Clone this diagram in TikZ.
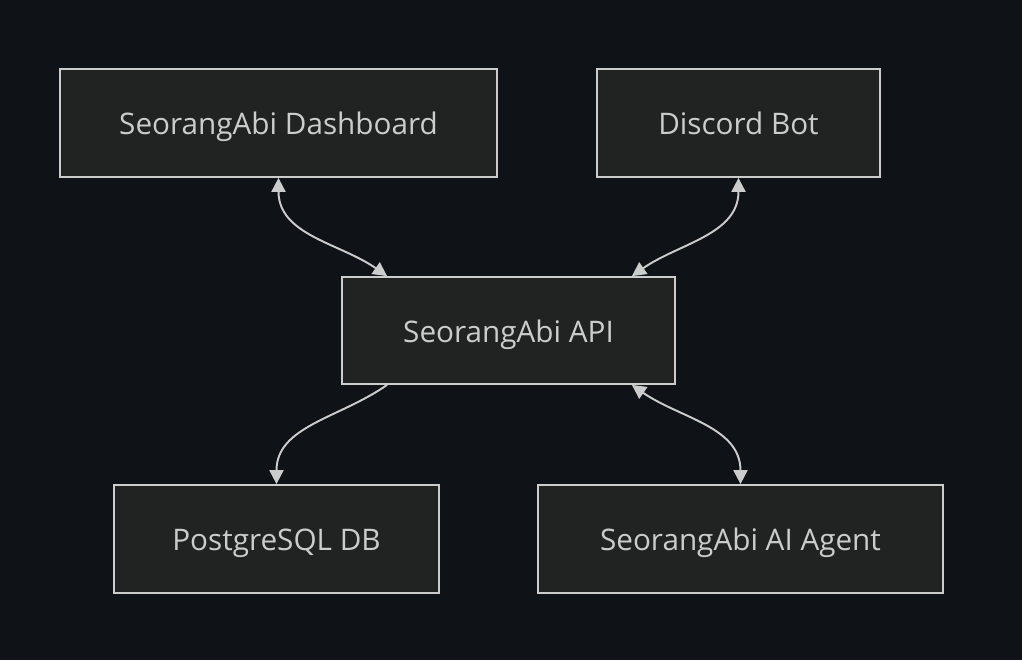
\documentclass[tikz,border=0pt]{standalone}
\usepackage{fontspec}
\setmainfont{Open Sans}
\usetikzlibrary{arrows.meta,calc}
\definecolor{bgc}{HTML}{0F1216}
\definecolor{boxc}{HTML}{212222}
\definecolor{linec}{HTML}{CCCCCC}
\tikzset{
  box/.style={draw=linec, fill=boxc, line width=1pt, text=linec, minimum height=108*0.02cm, inner sep=0pt, text height=16.5pt, text depth=3pt, font=\fontsize{16.9}{19}\selectfont},
  link/.style={draw=linec, line width=1.1pt, -{Triangle[length=8pt,width=8pt]}},
  blink/.style={link, {Triangle[length=8pt,width=8pt]}-{Triangle[length=8pt,width=8pt]}}
}
\begin{document}
\begin{tikzpicture}[x=0.02cm,y=-0.02cm]
\fill[bgc] (0,0) rectangle (1022,660);
\useasboundingbox (0,0) rectangle (1022,660);

\node[box, minimum width=437*0.02cm] (dash) at (278.5,123) {SeorangAbi Dashboard};
\node[box, minimum width=283*0.02cm] (bot) at (738.5,123) {Discord Bot};
\node[box, minimum width=333*0.02cm, minimum height=107*0.02cm] (api) at (508.5,330.5) {SeorangAbi API};
\node[box, minimum width=325*0.02cm] (db) at (276.5,539) {PostgreSQL DB};
\node[box, minimum width=405*0.02cm] (agent) at (740.5,539) {SeorangAbi AI Agent};

% anchor points on the api box
\coordinate (apitl) at ($(api.north west)+(46,0)$);
\coordinate (apitr) at ($(api.north east)+(-44,0)$);
\coordinate (apibl) at ($(api.south west)+(46,0)$);
\coordinate (apibr) at ($(api.south east)+(-44,0)$);

\draw[blink] (dash.south) to[out=-90,in=145] (apitl);
\draw[blink] (bot.south) to[out=-90,in=35] (apitr);
\draw[link] (apibl) to[out=-145,in=90] (db.north);
\draw[blink] (apibr) to[out=-35,in=90] (agent.north);
\end{tikzpicture}
\end{document}
